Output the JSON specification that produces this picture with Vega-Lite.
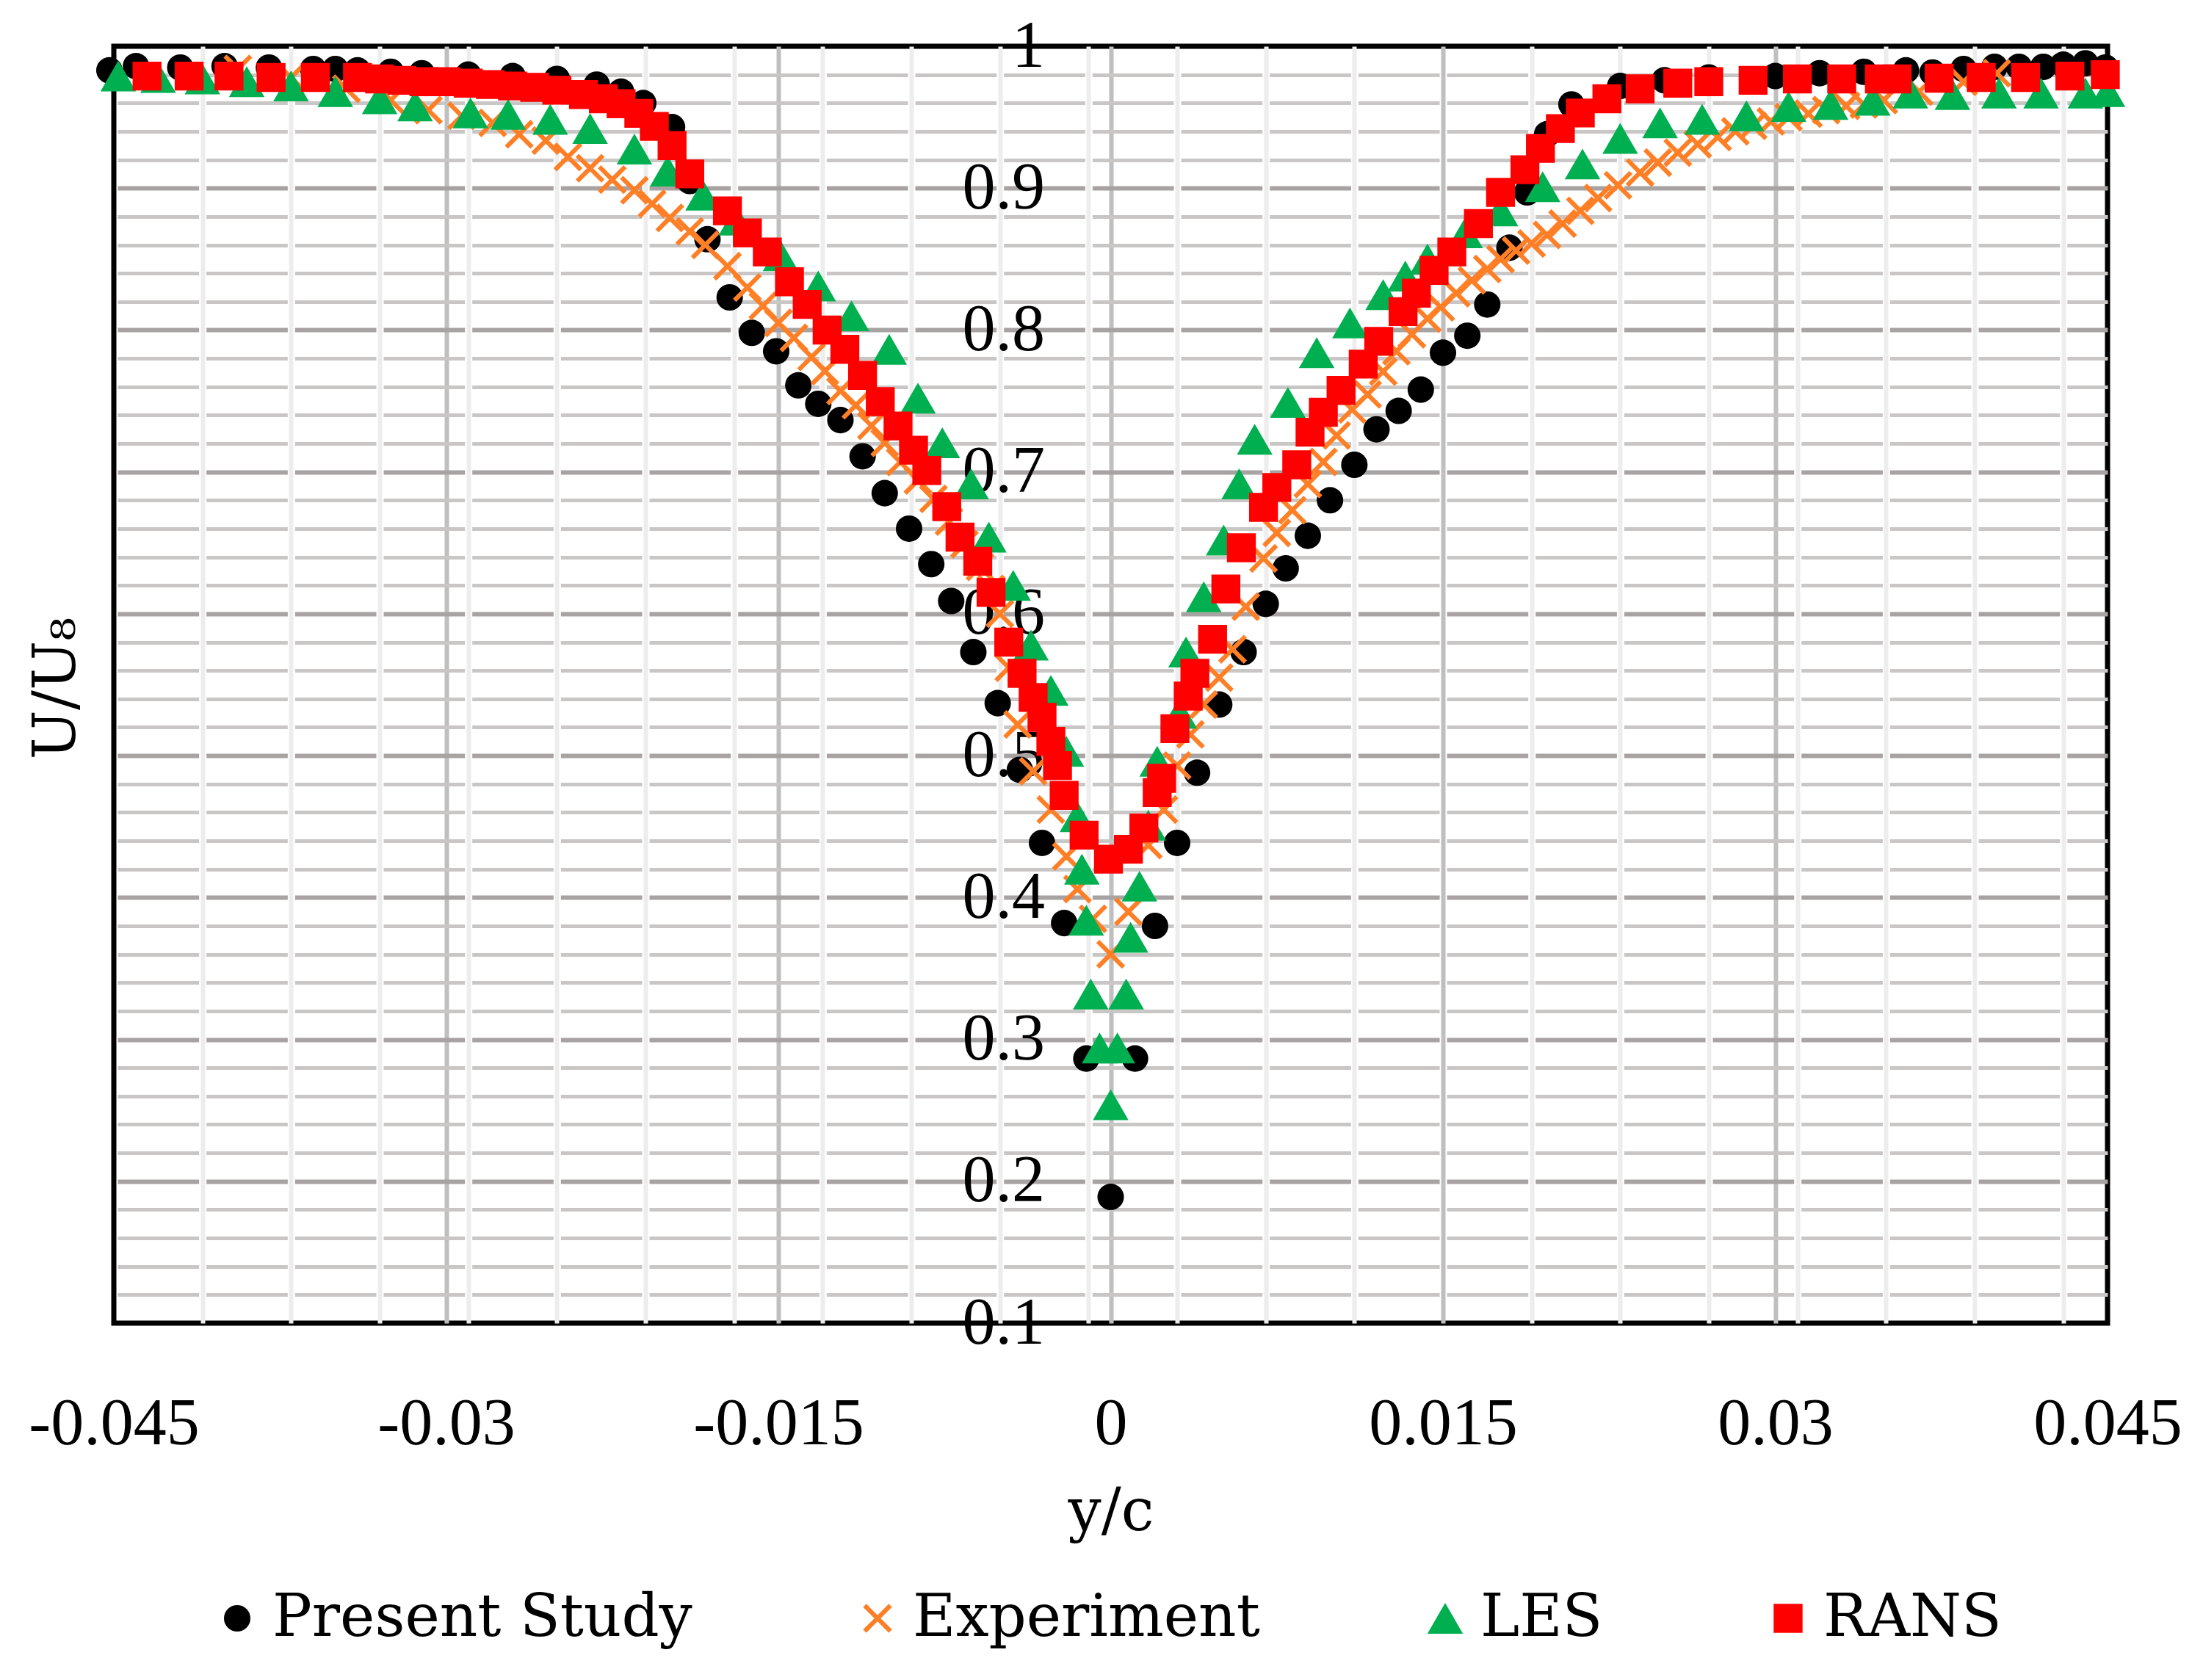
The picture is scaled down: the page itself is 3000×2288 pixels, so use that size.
{
  "$schema": "https://vega.github.io/schema/vega-lite/v6.json",
  "autosize": "none",
  "width": 2715,
  "height": 1739,
  "padding": {"left": 155, "top": 63, "right": 130, "bottom": 486},
  "background": "#FFFFFF",
  "data": {
    "values": [
      {"series": "Present Study", "yc": -0.0452, "U": 0.983},
      {"series": "Present Study", "yc": -0.044, "U": 0.986},
      {"series": "Present Study", "yc": -0.042, "U": 0.985},
      {"series": "Present Study", "yc": -0.040, "U": 0.986},
      {"series": "Present Study", "yc": -0.038, "U": 0.985},
      {"series": "Present Study", "yc": -0.036, "U": 0.984},
      {"series": "Present Study", "yc": -0.035, "U": 0.984},
      {"series": "Present Study", "yc": -0.034, "U": 0.983},
      {"series": "Present Study", "yc": -0.0325, "U": 0.982},
      {"series": "Present Study", "yc": -0.0311, "U": 0.981},
      {"series": "Present Study", "yc": -0.029, "U": 0.980},
      {"series": "Present Study", "yc": -0.027, "U": 0.979},
      {"series": "Present Study", "yc": -0.025, "U": 0.977},
      {"series": "Present Study", "yc": -0.0232, "U": 0.973},
      {"series": "Present Study", "yc": -0.0221, "U": 0.968},
      {"series": "Present Study", "yc": -0.0211, "U": 0.960},
      {"series": "Present Study", "yc": -0.0198, "U": 0.943},
      {"series": "Present Study", "yc": -0.0190, "U": 0.905},
      {"series": "Present Study", "yc": -0.0182, "U": 0.864},
      {"series": "Present Study", "yc": -0.0172, "U": 0.823},
      {"series": "Present Study", "yc": -0.0162, "U": 0.798},
      {"series": "Present Study", "yc": -0.0151, "U": 0.785},
      {"series": "Present Study", "yc": -0.0141, "U": 0.761},
      {"series": "Present Study", "yc": -0.0132, "U": 0.748},
      {"series": "Present Study", "yc": -0.0122, "U": 0.7365},
      {"series": "Present Study", "yc": -0.0112, "U": 0.711},
      {"series": "Present Study", "yc": -0.0102, "U": 0.685},
      {"series": "Present Study", "yc": -0.0091, "U": 0.660},
      {"series": "Present Study", "yc": -0.0081, "U": 0.635},
      {"series": "Present Study", "yc": -0.0072, "U": 0.609},
      {"series": "Present Study", "yc": -0.0062, "U": 0.573},
      {"series": "Present Study", "yc": -0.0051, "U": 0.537},
      {"series": "Present Study", "yc": -0.0041, "U": 0.490},
      {"series": "Present Study", "yc": -0.0031, "U": 0.4385},
      {"series": "Present Study", "yc": -0.0021, "U": 0.382},
      {"series": "Present Study", "yc": -0.0011, "U": 0.2865},
      {"series": "Present Study", "yc": 0.0, "U": 0.189},
      {"series": "Present Study", "yc": 0.0011, "U": 0.2865},
      {"series": "Present Study", "yc": 0.0020, "U": 0.380},
      {"series": "Present Study", "yc": 0.0030, "U": 0.4385},
      {"series": "Present Study", "yc": 0.0039, "U": 0.488},
      {"series": "Present Study", "yc": 0.0049, "U": 0.536},
      {"series": "Present Study", "yc": 0.0060, "U": 0.573},
      {"series": "Present Study", "yc": 0.0070, "U": 0.607},
      {"series": "Present Study", "yc": 0.0079, "U": 0.632},
      {"series": "Present Study", "yc": 0.0089, "U": 0.655},
      {"series": "Present Study", "yc": 0.0099, "U": 0.680},
      {"series": "Present Study", "yc": 0.0110, "U": 0.705},
      {"series": "Present Study", "yc": 0.0120, "U": 0.730},
      {"series": "Present Study", "yc": 0.0130, "U": 0.743},
      {"series": "Present Study", "yc": 0.0140, "U": 0.758},
      {"series": "Present Study", "yc": 0.0150, "U": 0.784},
      {"series": "Present Study", "yc": 0.0161, "U": 0.796},
      {"series": "Present Study", "yc": 0.0170, "U": 0.818},
      {"series": "Present Study", "yc": 0.0180, "U": 0.858},
      {"series": "Present Study", "yc": 0.0188, "U": 0.897},
      {"series": "Present Study", "yc": 0.0197, "U": 0.938},
      {"series": "Present Study", "yc": 0.0208, "U": 0.959},
      {"series": "Present Study", "yc": 0.0230, "U": 0.972},
      {"series": "Present Study", "yc": 0.025, "U": 0.976},
      {"series": "Present Study", "yc": 0.027, "U": 0.978},
      {"series": "Present Study", "yc": 0.030, "U": 0.979},
      {"series": "Present Study", "yc": 0.032, "U": 0.981},
      {"series": "Present Study", "yc": 0.034, "U": 0.982},
      {"series": "Present Study", "yc": 0.0359, "U": 0.983},
      {"series": "Present Study", "yc": 0.0371, "U": 0.9815},
      {"series": "Present Study", "yc": 0.0385, "U": 0.984},
      {"series": "Present Study", "yc": 0.0399, "U": 0.9855},
      {"series": "Present Study", "yc": 0.041, "U": 0.9855},
      {"series": "Present Study", "yc": 0.0421, "U": 0.9855},
      {"series": "Present Study", "yc": 0.043, "U": 0.987},
      {"series": "Present Study", "yc": 0.044, "U": 0.988},
      {"series": "Present Study", "yc": 0.0449, "U": 0.985},

      {"series": "Experiment", "yc": -0.0394, "U": 0.984},
      {"series": "Experiment", "yc": -0.037, "U": 0.978},
      {"series": "Experiment", "yc": -0.0345, "U": 0.970},
      {"series": "Experiment", "yc": -0.0325, "U": 0.962},
      {"series": "Experiment", "yc": -0.0308, "U": 0.955},
      {"series": "Experiment", "yc": -0.0293, "U": 0.951},
      {"series": "Experiment", "yc": -0.0279, "U": 0.946},
      {"series": "Experiment", "yc": -0.0267, "U": 0.938},
      {"series": "Experiment", "yc": -0.0255, "U": 0.9335},
      {"series": "Experiment", "yc": -0.0245, "U": 0.922},
      {"series": "Experiment", "yc": -0.0235, "U": 0.914},
      {"series": "Experiment", "yc": -0.0225, "U": 0.906},
      {"series": "Experiment", "yc": -0.0215, "U": 0.8985},
      {"series": "Experiment", "yc": -0.0207, "U": 0.889},
      {"series": "Experiment", "yc": -0.0199, "U": 0.879},
      {"series": "Experiment", "yc": -0.0190, "U": 0.8695},
      {"series": "Experiment", "yc": -0.0183, "U": 0.860},
      {"series": "Experiment", "yc": -0.0173, "U": 0.845},
      {"series": "Experiment", "yc": -0.0164, "U": 0.830},
      {"series": "Experiment", "yc": -0.0157, "U": 0.817},
      {"series": "Experiment", "yc": -0.0150, "U": 0.805},
      {"series": "Experiment", "yc": -0.0143, "U": 0.7945},
      {"series": "Experiment", "yc": -0.0135, "U": 0.781},
      {"series": "Experiment", "yc": -0.0129, "U": 0.771},
      {"series": "Experiment", "yc": -0.0122, "U": 0.757},
      {"series": "Experiment", "yc": -0.0115, "U": 0.747},
      {"series": "Experiment", "yc": -0.0108, "U": 0.7325},
      {"series": "Experiment", "yc": -0.0102, "U": 0.7205},
      {"series": "Experiment", "yc": -0.0095, "U": 0.707},
      {"series": "Experiment", "yc": -0.0087, "U": 0.694},
      {"series": "Experiment", "yc": -0.0080, "U": 0.681},
      {"series": "Experiment", "yc": -0.0073, "U": 0.665},
      {"series": "Experiment", "yc": -0.0066, "U": 0.649},
      {"series": "Experiment", "yc": -0.0059, "U": 0.633},
      {"series": "Experiment", "yc": -0.0054, "U": 0.6175},
      {"series": "Experiment", "yc": -0.0050, "U": 0.600},
      {"series": "Experiment", "yc": -0.0046, "U": 0.562},
      {"series": "Experiment", "yc": -0.0042, "U": 0.522},
      {"series": "Experiment", "yc": -0.0035, "U": 0.489},
      {"series": "Experiment", "yc": -0.0027, "U": 0.462},
      {"series": "Experiment", "yc": -0.0020, "U": 0.429},
      {"series": "Experiment", "yc": -0.0015, "U": 0.406},
      {"series": "Experiment", "yc": -0.0008, "U": 0.385},
      {"series": "Experiment", "yc": 0.0, "U": 0.360},
      {"series": "Experiment", "yc": 0.0008, "U": 0.390},
      {"series": "Experiment", "yc": 0.0017, "U": 0.437},
      {"series": "Experiment", "yc": 0.0024, "U": 0.462},
      {"series": "Experiment", "yc": 0.0030, "U": 0.493},
      {"series": "Experiment", "yc": 0.0036, "U": 0.515},
      {"series": "Experiment", "yc": 0.0042, "U": 0.536},
      {"series": "Experiment", "yc": 0.0049, "U": 0.555},
      {"series": "Experiment", "yc": 0.0055, "U": 0.575},
      {"series": "Experiment", "yc": 0.0061, "U": 0.605},
      {"series": "Experiment", "yc": 0.0069, "U": 0.639},
      {"series": "Experiment", "yc": 0.0075, "U": 0.657},
      {"series": "Experiment", "yc": 0.0082, "U": 0.673},
      {"series": "Experiment", "yc": 0.0089, "U": 0.6915},
      {"series": "Experiment", "yc": 0.0096, "U": 0.707},
      {"series": "Experiment", "yc": 0.0102, "U": 0.7257},
      {"series": "Experiment", "yc": 0.0109, "U": 0.744},
      {"series": "Experiment", "yc": 0.0116, "U": 0.7546},
      {"series": "Experiment", "yc": 0.0123, "U": 0.7707},
      {"series": "Experiment", "yc": 0.0129, "U": 0.785},
      {"series": "Experiment", "yc": 0.0136, "U": 0.797},
      {"series": "Experiment", "yc": 0.0143, "U": 0.808},
      {"series": "Experiment", "yc": 0.0149, "U": 0.816},
      {"series": "Experiment", "yc": 0.0156, "U": 0.826},
      {"series": "Experiment", "yc": 0.0163, "U": 0.835},
      {"series": "Experiment", "yc": 0.0170, "U": 0.843},
      {"series": "Experiment", "yc": 0.0176, "U": 0.850},
      {"series": "Experiment", "yc": 0.0183, "U": 0.856},
      {"series": "Experiment", "yc": 0.0190, "U": 0.861},
      {"series": "Experiment", "yc": 0.0197, "U": 0.867},
      {"series": "Experiment", "yc": 0.0204, "U": 0.875},
      {"series": "Experiment", "yc": 0.0212, "U": 0.884},
      {"series": "Experiment", "yc": 0.0220, "U": 0.893},
      {"series": "Experiment", "yc": 0.0229, "U": 0.902},
      {"series": "Experiment", "yc": 0.0239, "U": 0.911},
      {"series": "Experiment", "yc": 0.0247, "U": 0.918},
      {"series": "Experiment", "yc": 0.0256, "U": 0.925},
      {"series": "Experiment", "yc": 0.0265, "U": 0.931},
      {"series": "Experiment", "yc": 0.0274, "U": 0.936},
      {"series": "Experiment", "yc": 0.0282, "U": 0.940},
      {"series": "Experiment", "yc": 0.0290, "U": 0.944},
      {"series": "Experiment", "yc": 0.0298, "U": 0.947},
      {"series": "Experiment", "yc": 0.0306, "U": 0.950},
      {"series": "Experiment", "yc": 0.0315, "U": 0.9525},
      {"series": "Experiment", "yc": 0.0323, "U": 0.955},
      {"series": "Experiment", "yc": 0.0332, "U": 0.958},
      {"series": "Experiment", "yc": 0.0340, "U": 0.959},
      {"series": "Experiment", "yc": 0.0349, "U": 0.962},
      {"series": "Experiment", "yc": 0.0365, "U": 0.968},
      {"series": "Experiment", "yc": 0.0385, "U": 0.975},
      {"series": "Experiment", "yc": 0.0400, "U": 0.981},

      {"series": "LES", "yc": -0.0448, "U": 0.979},
      {"series": "LES", "yc": -0.043, "U": 0.978},
      {"series": "LES", "yc": -0.041, "U": 0.977},
      {"series": "LES", "yc": -0.039, "U": 0.975},
      {"series": "LES", "yc": -0.037, "U": 0.972},
      {"series": "LES", "yc": -0.035, "U": 0.968},
      {"series": "LES", "yc": -0.033, "U": 0.963},
      {"series": "LES", "yc": -0.0314, "U": 0.958},
      {"series": "LES", "yc": -0.0289, "U": 0.953},
      {"series": "LES", "yc": -0.0272, "U": 0.952},
      {"series": "LES", "yc": -0.0253, "U": 0.9485},
      {"series": "LES", "yc": -0.0235, "U": 0.942},
      {"series": "LES", "yc": -0.0215, "U": 0.9275},
      {"series": "LES", "yc": -0.0200, "U": 0.912},
      {"series": "LES", "yc": -0.0184, "U": 0.895},
      {"series": "LES", "yc": -0.0169, "U": 0.8775},
      {"series": "LES", "yc": -0.0149, "U": 0.8524},
      {"series": "LES", "yc": -0.0132, "U": 0.831},
      {"series": "LES", "yc": -0.0117, "U": 0.810},
      {"series": "LES", "yc": -0.0100, "U": 0.7864},
      {"series": "LES", "yc": -0.0087, "U": 0.752},
      {"series": "LES", "yc": -0.0076, "U": 0.7205},
      {"series": "LES", "yc": -0.0063, "U": 0.6915},
      {"series": "LES", "yc": -0.0055, "U": 0.654},
      {"series": "LES", "yc": -0.0044, "U": 0.620},
      {"series": "LES", "yc": -0.0036, "U": 0.578},
      {"series": "LES", "yc": -0.0027, "U": 0.546},
      {"series": "LES", "yc": -0.0020, "U": 0.503},
      {"series": "LES", "yc": -0.0015, "U": 0.457},
      {"series": "LES", "yc": -0.0013, "U": 0.420},
      {"series": "LES", "yc": -0.0011, "U": 0.384},
      {"series": "LES", "yc": -0.0009, "U": 0.332},
      {"series": "LES", "yc": -0.0005, "U": 0.294},
      {"series": "LES", "yc": 0.0, "U": 0.254},
      {"series": "LES", "yc": 0.0003, "U": 0.294},
      {"series": "LES", "yc": 0.0007, "U": 0.332},
      {"series": "LES", "yc": 0.0009, "U": 0.372},
      {"series": "LES", "yc": 0.0013, "U": 0.408},
      {"series": "LES", "yc": 0.0017, "U": 0.451},
      {"series": "LES", "yc": 0.0021, "U": 0.496},
      {"series": "LES", "yc": 0.0031, "U": 0.530},
      {"series": "LES", "yc": 0.0034, "U": 0.573},
      {"series": "LES", "yc": 0.0042, "U": 0.612},
      {"series": "LES", "yc": 0.0051, "U": 0.652},
      {"series": "LES", "yc": 0.0058, "U": 0.6915},
      {"series": "LES", "yc": 0.0065, "U": 0.723},
      {"series": "LES", "yc": 0.0080, "U": 0.749},
      {"series": "LES", "yc": 0.0093, "U": 0.784},
      {"series": "LES", "yc": 0.0108, "U": 0.805},
      {"series": "LES", "yc": 0.0123, "U": 0.825},
      {"series": "LES", "yc": 0.0133, "U": 0.838},
      {"series": "LES", "yc": 0.0143, "U": 0.850},
      {"series": "LES", "yc": 0.0160, "U": 0.8685},
      {"series": "LES", "yc": 0.0176, "U": 0.884},
      {"series": "LES", "yc": 0.0195, "U": 0.901},
      {"series": "LES", "yc": 0.0213, "U": 0.917},
      {"series": "LES", "yc": 0.0230, "U": 0.935},
      {"series": "LES", "yc": 0.0248, "U": 0.946},
      {"series": "LES", "yc": 0.0267, "U": 0.9485},
      {"series": "LES", "yc": 0.0287, "U": 0.951},
      {"series": "LES", "yc": 0.0306, "U": 0.9575},
      {"series": "LES", "yc": 0.0325, "U": 0.959},
      {"series": "LES", "yc": 0.0344, "U": 0.962},
      {"series": "LES", "yc": 0.0361, "U": 0.967},
      {"series": "LES", "yc": 0.0380, "U": 0.966},
      {"series": "LES", "yc": 0.0401, "U": 0.967},
      {"series": "LES", "yc": 0.0420, "U": 0.967},
      {"series": "LES", "yc": 0.0440, "U": 0.967},
      {"series": "LES", "yc": 0.0450, "U": 0.968},

      {"series": "RANS", "yc": -0.0435, "U": 0.979},
      {"series": "RANS", "yc": -0.0416, "U": 0.979},
      {"series": "RANS", "yc": -0.0398, "U": 0.979},
      {"series": "RANS", "yc": -0.0379, "U": 0.978},
      {"series": "RANS", "yc": -0.0359, "U": 0.978},
      {"series": "RANS", "yc": -0.034, "U": 0.978},
      {"series": "RANS", "yc": -0.033, "U": 0.977},
      {"series": "RANS", "yc": -0.032, "U": 0.976},
      {"series": "RANS", "yc": -0.031, "U": 0.975},
      {"series": "RANS", "yc": -0.030, "U": 0.975},
      {"series": "RANS", "yc": -0.029, "U": 0.974},
      {"series": "RANS", "yc": -0.028, "U": 0.973},
      {"series": "RANS", "yc": -0.027, "U": 0.972},
      {"series": "RANS", "yc": -0.026, "U": 0.971},
      {"series": "RANS", "yc": -0.025, "U": 0.969},
      {"series": "RANS", "yc": -0.0238, "U": 0.966},
      {"series": "RANS", "yc": -0.0229, "U": 0.963},
      {"series": "RANS", "yc": -0.0221, "U": 0.9595},
      {"series": "RANS", "yc": -0.0213, "U": 0.9527},
      {"series": "RANS", "yc": -0.0206, "U": 0.9435},
      {"series": "RANS", "yc": -0.0198, "U": 0.930},
      {"series": "RANS", "yc": -0.0190, "U": 0.910},
      {"series": "RANS", "yc": -0.0173, "U": 0.884},
      {"series": "RANS", "yc": -0.0164, "U": 0.8685},
      {"series": "RANS", "yc": -0.0155, "U": 0.855},
      {"series": "RANS", "yc": -0.0145, "U": 0.834},
      {"series": "RANS", "yc": -0.0137, "U": 0.818},
      {"series": "RANS", "yc": -0.0128, "U": 0.800},
      {"series": "RANS", "yc": -0.0120, "U": 0.7864},
      {"series": "RANS", "yc": -0.0112, "U": 0.768},
      {"series": "RANS", "yc": -0.0104, "U": 0.7495},
      {"series": "RANS", "yc": -0.0096, "U": 0.7324},
      {"series": "RANS", "yc": -0.0089, "U": 0.7153},
      {"series": "RANS", "yc": -0.0083, "U": 0.701},
      {"series": "RANS", "yc": -0.0074, "U": 0.6755},
      {"series": "RANS", "yc": -0.0068, "U": 0.654},
      {"series": "RANS", "yc": -0.0060, "U": 0.637},
      {"series": "RANS", "yc": -0.0054, "U": 0.615},
      {"series": "RANS", "yc": -0.0046, "U": 0.580},
      {"series": "RANS", "yc": -0.0040, "U": 0.558},
      {"series": "RANS", "yc": -0.0035, "U": 0.541},
      {"series": "RANS", "yc": -0.0031, "U": 0.527},
      {"series": "RANS", "yc": -0.0027, "U": 0.510},
      {"series": "RANS", "yc": -0.0024, "U": 0.493},
      {"series": "RANS", "yc": -0.0021, "U": 0.472},
      {"series": "RANS", "yc": -0.0012, "U": 0.444},
      {"series": "RANS", "yc": -0.0001, "U": 0.427},
      {"series": "RANS", "yc": 0.0008, "U": 0.434},
      {"series": "RANS", "yc": 0.0015, "U": 0.449},
      {"series": "RANS", "yc": 0.0021, "U": 0.474},
      {"series": "RANS", "yc": 0.0023, "U": 0.484},
      {"series": "RANS", "yc": 0.0029, "U": 0.519},
      {"series": "RANS", "yc": 0.0035, "U": 0.542},
      {"series": "RANS", "yc": 0.0038, "U": 0.558},
      {"series": "RANS", "yc": 0.0046, "U": 0.582},
      {"series": "RANS", "yc": 0.0052, "U": 0.6175},
      {"series": "RANS", "yc": 0.0059, "U": 0.6465},
      {"series": "RANS", "yc": 0.0069, "U": 0.675},
      {"series": "RANS", "yc": 0.0075, "U": 0.689},
      {"series": "RANS", "yc": 0.0084, "U": 0.705},
      {"series": "RANS", "yc": 0.0090, "U": 0.728},
      {"series": "RANS", "yc": 0.0096, "U": 0.742},
      {"series": "RANS", "yc": 0.0104, "U": 0.7574},
      {"series": "RANS", "yc": 0.0114, "U": 0.776},
      {"series": "RANS", "yc": 0.0121, "U": 0.792},
      {"series": "RANS", "yc": 0.0132, "U": 0.813},
      {"series": "RANS", "yc": 0.0138, "U": 0.826},
      {"series": "RANS", "yc": 0.0146, "U": 0.842},
      {"series": "RANS", "yc": 0.0154, "U": 0.855},
      {"series": "RANS", "yc": 0.0166, "U": 0.875},
      {"series": "RANS", "yc": 0.0176, "U": 0.897},
      {"series": "RANS", "yc": 0.0187, "U": 0.913},
      {"series": "RANS", "yc": 0.0194, "U": 0.928},
      {"series": "RANS", "yc": 0.0203, "U": 0.942},
      {"series": "RANS", "yc": 0.0212, "U": 0.953},
      {"series": "RANS", "yc": 0.0224, "U": 0.963},
      {"series": "RANS", "yc": 0.0239, "U": 0.970},
      {"series": "RANS", "yc": 0.0256, "U": 0.974},
      {"series": "RANS", "yc": 0.027, "U": 0.975},
      {"series": "RANS", "yc": 0.029, "U": 0.976},
      {"series": "RANS", "yc": 0.031, "U": 0.977},
      {"series": "RANS", "yc": 0.033, "U": 0.977},
      {"series": "RANS", "yc": 0.0347, "U": 0.977},
      {"series": "RANS", "yc": 0.0355, "U": 0.977},
      {"series": "RANS", "yc": 0.0374, "U": 0.9775},
      {"series": "RANS", "yc": 0.0393, "U": 0.978},
      {"series": "RANS", "yc": 0.0413, "U": 0.978},
      {"series": "RANS", "yc": 0.0433, "U": 0.979},
      {"series": "RANS", "yc": 0.0449, "U": 0.980}
    ]
  },
  "mark": {"type": "point", "filled": true, "opacity": 1, "strokeWidth": 0},
  "encoding": {
    "x": {
      "field": "yc",
      "type": "quantitative",
      "scale": {"domain": [-0.045, 0.045], "nice": false, "zero": false},
      "axis": {
        "values": [-0.045, -0.041, -0.037, -0.033, -0.03, -0.029, -0.025, -0.021, -0.017, -0.015, -0.013, -0.009, -0.005, -0.001, 0, 0.003, 0.007, 0.011, 0.015, 0.019, 0.023, 0.027, 0.03, 0.031, 0.035, 0.039, 0.043, 0.045],
        "grid": true,
        "gridColor": {"condition": {"test": "abs(datum.value/0.015 - round(datum.value/0.015)) < 0.001", "value": "#BFBFBF"}, "value": "#EDEDED"},
        "gridOpacity": {"condition": {"test": "abs(datum.value) > 0.0449", "value": 0}, "value": 1},
        "gridWidth": 6,
        "ticks": false,
        "domain": false,
        "labelExpr": "abs(datum.value/0.015 - round(datum.value/0.015)) < 0.001 ? toString(datum.value) : ''",
        "labelFont": "Liberation Serif",
        "labelFontSize": 90,
        "labelColor": "#000000",
        "labelPadding": 93,
        "labelLimit": 0,
        "labelFlush": false,
        "labelOverlap": false,
        "labelBound": false,
        "title": "y/c",
        "titleFont": "DejaVu Serif",
        "titleFontSize": 80,
        "titleFontWeight": "normal",
        "titleColor": "#000000",
        "titleY": 257,
        "titleBaseline": "middle"
      }
    },
    "y": {
      "field": "U",
      "type": "quantitative",
      "scale": {"domain": [0.1, 1], "nice": false, "zero": false},
      "axis": {
        "values": [0.1, 0.12, 0.14, 0.16, 0.18, 0.2, 0.22, 0.24, 0.26, 0.28, 0.3, 0.32, 0.34, 0.36, 0.38, 0.4, 0.42, 0.44, 0.46, 0.48, 0.5, 0.52, 0.54, 0.56, 0.58, 0.6, 0.62, 0.64, 0.66, 0.68, 0.7, 0.72, 0.74, 0.76, 0.78, 0.8, 0.82, 0.84, 0.86, 0.88, 0.9, 0.92, 0.94, 0.96, 0.98, 1],
        "grid": true,
        "gridColor": {"condition": {"test": "abs(datum.value*10 - round(datum.value*10)) < 0.001", "value": "#A8A3A3"}, "value": "#C9C6C6"},
        "gridWidth": {"condition": {"test": "abs(datum.value*10 - round(datum.value*10)) < 0.001", "value": 6}, "value": 5},
        "gridOpacity": {"condition": {"test": "datum.value < 0.101 || datum.value > 0.999", "value": 0}, "value": 1},
        "gridDash": [110.67, 10],
        "gridDashOffset": 115.67,
        "ticks": false,
        "domain": false,
        "offset": -1357.5,
        "labelExpr": "abs(datum.value*10 - round(datum.value*10)) < 0.001 ? toString(datum.value) : ''",
        "labelFont": "Liberation Serif",
        "labelFontSize": 90,
        "labelColor": "#000000",
        "labelPadding": 90,
        "labelLimit": 0,
        "labelFlush": false,
        "labelOverlap": false,
        "labelBound": false,
        "title": "U/U₈",
        "titleFont": "DejaVu Serif",
        "titleFontSize": 80,
        "titleFontWeight": "normal",
        "titleColor": "#000000",
        "titleX": -1435,
        "titleY": 874,
        "titleAngle": 270,
        "titleAlign": "center",
        "titleBaseline": "middle"
      }
    },
    "color": {
      "field": "series",
      "type": "nominal",
      "scale": {
        "domain": ["Present Study", "Experiment", "LES", "RANS"],
        "range": ["#000000", "#FF7F27", "#00B050", "#FF0000"]
      },
      "legend": {
        "orient": "none",
        "legendX": 128,
        "legendY": 2101,
        "direction": "horizontal",
        "title": null,
        "padding": 0,
        "labelFont": "DejaVu Serif",
        "labelFontSize": 80,
        "labelColor": "#000000",
        "labelOffset": 8,
        "labelLimit": 0,
        "columnPadding": 212,
        "symbolOpacity": 1
      }
    },
    "shape": {
      "field": "series",
      "type": "nominal",
      "scale": {
        "domain": ["Present Study", "Experiment", "LES", "RANS"],
        "range": ["circle", "M-1,-0.78L-0.78,-1L0,-0.22L0.78,-1L1,-0.78L0.22,0L1,0.78L0.78,1L0,0.22L-0.78,1L-1,0.78L-0.22,0Z", "triangle-up", "square"]
      }
    },
    "size": {
      "field": "series",
      "type": "nominal",
      "scale": {
        "type": "ordinal",
        "domain": ["Present Study", "Experiment", "LES", "RANS"],
        "range": [1300, 1550, 2350, 1550]
      }
    }
  },
  "config": {
    "view": {"stroke": "#000000", "strokeWidth": 7},
    "font": "DejaVu Serif"
  }
}
